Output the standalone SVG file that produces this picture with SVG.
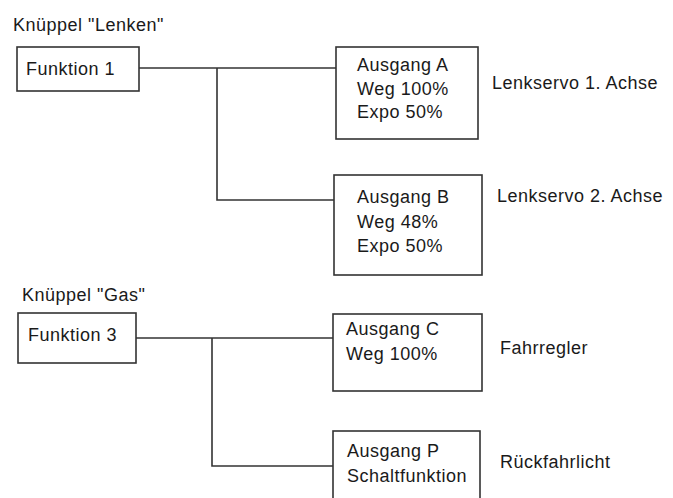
<svg xmlns="http://www.w3.org/2000/svg" width="673" height="498" viewBox="0 0 673 498">
<style>
text{font-family:"Liberation Sans",Arial,sans-serif;font-size:18px;fill:#1a1a1a;letter-spacing:0.5px}
.box{fill:#fff;stroke:#333;stroke-width:1.6}
.wire{fill:none;stroke:#333;stroke-width:1.6}
</style>
<rect width="673" height="498" fill="#fff"/>
<text x="13" y="31">Knüppel "Lenken"</text>
<text x="22" y="301">Knüppel "Gas"</text>
<g id="connectors">
<polyline class="wire" points="139,68 336,68"/>
<polyline class="wire" points="217,68 217,200 334,200"/>
<polyline class="wire" points="136,338 333,338"/>
<polyline class="wire" points="212,338 212,466 333,466"/>
</g>
<g id="f1">
<rect class="box" x="17" y="47" width="122" height="44"/>
<text x="26" y="75">Funktion 1</text>
</g>
<g id="f3">
<rect class="box" x="18" y="313" width="118" height="50"/>
<text x="28" y="341">Funktion 3</text>
</g>
<g id="outA">
<rect class="box" x="336" y="47" width="142" height="92"/>
<text x="357" y="71">Ausgang A</text>
<text x="357" y="95">Weg 100%</text>
<text x="357" y="118">Expo 50%</text>
</g>
<text x="492" y="89">Lenkservo 1. Achse</text>
<g id="outB">
<rect class="box" x="334" y="175" width="148" height="100"/>
<text x="357" y="203">Ausgang B</text>
<text x="357" y="228">Weg 48%</text>
<text x="357" y="252">Expo 50%</text>
</g>
<text x="497" y="202">Lenkservo 2. Achse</text>
<g id="outC">
<rect class="box" x="333" y="314" width="149" height="77"/>
<text x="346" y="335">Ausgang C</text>
<text x="346" y="360">Weg 100%</text>
</g>
<text x="500" y="354">Fahrregler</text>
<g id="outP">
<rect class="box" x="333" y="431" width="147" height="80"/>
<text x="347" y="457">Ausgang P</text>
<text x="347" y="482">Schaltfunktion</text>
</g>
<text x="500" y="468">Rückfahrlicht</text>
</svg>
